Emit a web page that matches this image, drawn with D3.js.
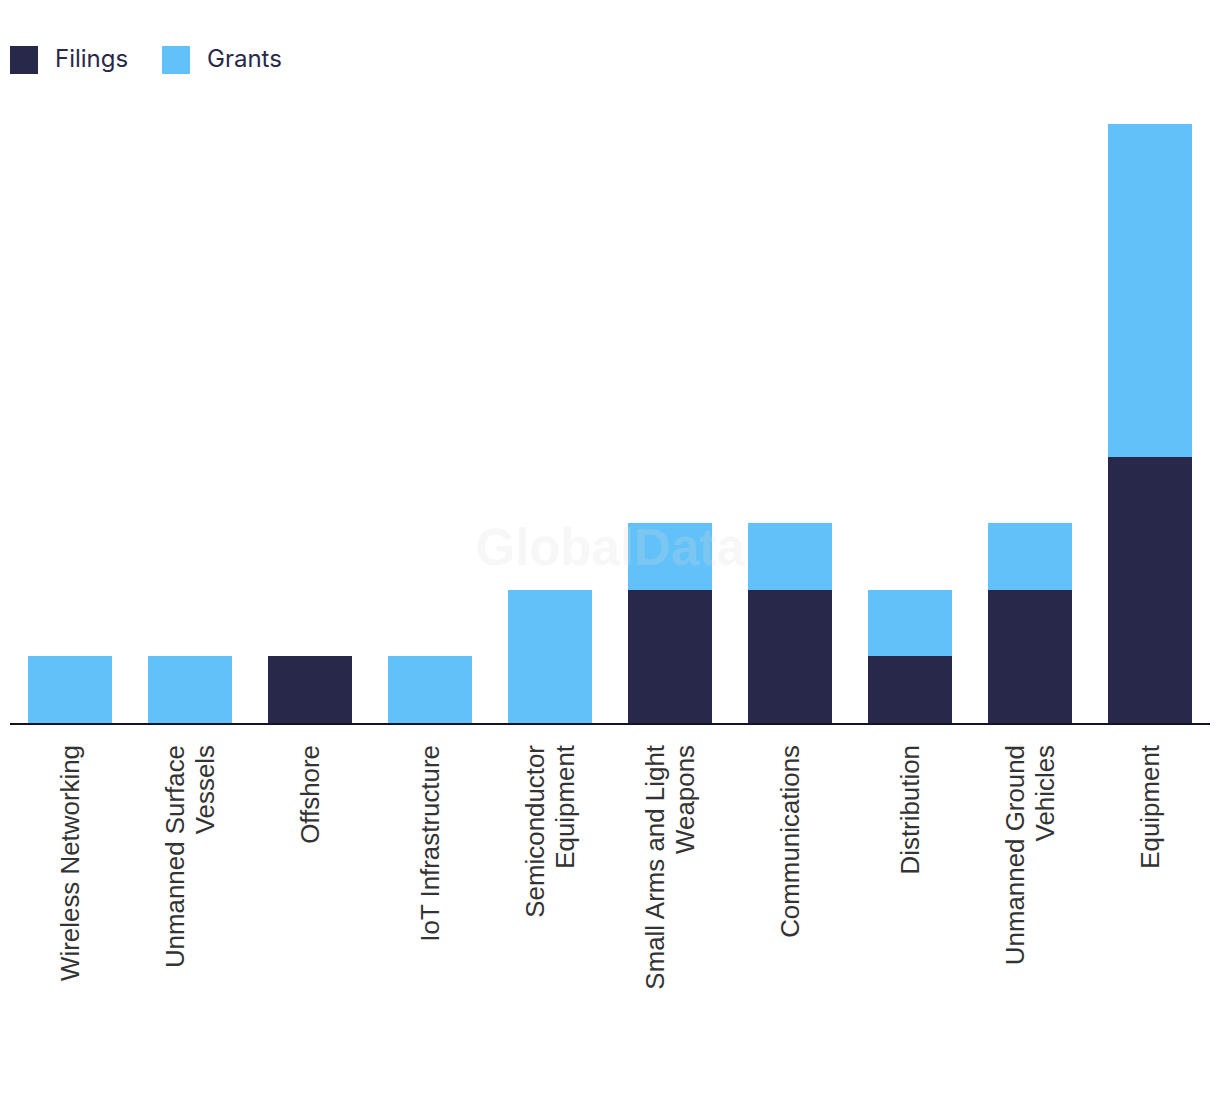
<!DOCTYPE html>
<html><head><meta charset="utf-8">
<script src="https://cdn.jsdelivr.net/npm/d3@7"></script>
<style>body{margin:0;background:#fff}svg{display:block}</style>
</head><body>
<svg id="c" width="1220" height="1094"></svg>
<script>
const categories = [
  "Wireless Networking",
  "Unmanned Surface Vessels",
  "Offshore",
  "IoT Infrastructure",
  "Semiconductor Equipment",
  "Small Arms and Light Weapons",
  "Communications",
  "Distribution",
  "Unmanned Ground Vehicles",
  "Equipment"
];
const labelLines = [
  ["Wireless Networking"],
  ["Unmanned Surface", "Vessels"],
  ["Offshore"],
  ["IoT Infrastructure"],
  ["Semiconductor", "Equipment"],
  ["Small Arms and Light", "Weapons"],
  ["Communications"],
  ["Distribution"],
  ["Unmanned Ground", "Vehicles"],
  ["Equipment"]
];
const filings = [0, 0, 1, 0, 0, 2, 2, 1, 2, 4];
const grants  = [1, 1, 0, 1, 2, 1, 1, 1, 1, 5];
const seriesNames = ["Filings", "Grants"];
const colors = ["#28284a", "#62c1f9"];

const svg = d3.select("#c");
const x = d3.scaleBand().domain(categories).range([10, 1210]).paddingInner(0.3).paddingOuter(0.15);
const y = d3.scaleLinear().domain([0, 9]).range([723, 124]);

const rows = categories.map((c, i) => ({cat: c, Filings: filings[i], Grants: grants[i]}));
const stack = d3.stack().keys(seriesNames)(rows);

svg.append("g").selectAll("g").data(stack).join("g")
  .attr("fill", (d, i) => colors[i])
  .selectAll("rect").data(d => d).join("rect")
  .attr("x", d => x(d.data.cat))
  .attr("width", x.bandwidth())
  .attr("y", d => Math.round(y(d[1])))
  .attr("height", d => Math.round(y(d[0])) - Math.round(y(d[1])));

// axis line
svg.append("line").attr("x1", 10).attr("x2", 1210).attr("y1", y(0) + 1).attr("y2", y(0) + 1)
  .attr("stroke", "#12122a").attr("stroke-width", 2);

// labels
const lg = svg.append("g").attr("font-family", "'Liberation Sans', Arial, sans-serif")
  .attr("font-size", 25.9).attr("fill", "#333");
categories.forEach((c, i) => {
  const cx = x(c) + x.bandwidth() / 2;
  const lines = labelLines[i];
  const n = lines.length;
  lines.forEach((t, j) => {
    const off = (j - (n - 1) / 2) * 30;
    lg.append("text")
      .attr("transform", `translate(${cx + off + 9},745) rotate(-90)`)
      .attr("text-anchor", "end")
      .text(t);
  });
});

// legend
const leg = svg.append("g").attr("font-family", "Inter, 'Noto Sans', sans-serif").attr("font-size", 24).attr("fill", "#28284a");
const legX = [10, 162];
seriesNames.forEach((s, i) => {
  leg.append("rect").attr("x", legX[i]).attr("y", 46).attr("width", 28).attr("height", 28).attr("fill", colors[i]);
  leg.append("text").attr("x", legX[i] + 45).attr("y", 67).text(s);
});

// watermark
svg.append("text").attr("x", 610).attr("y", 565).attr("text-anchor", "middle")
  .attr("font-family", "'Liberation Sans', Arial, sans-serif").attr("font-weight", "bold")
  .attr("font-size", 51).attr("fill", "#dcdcdc").attr("fill-opacity", 0.22).text("GlobalData");
</script>
</body></html>
